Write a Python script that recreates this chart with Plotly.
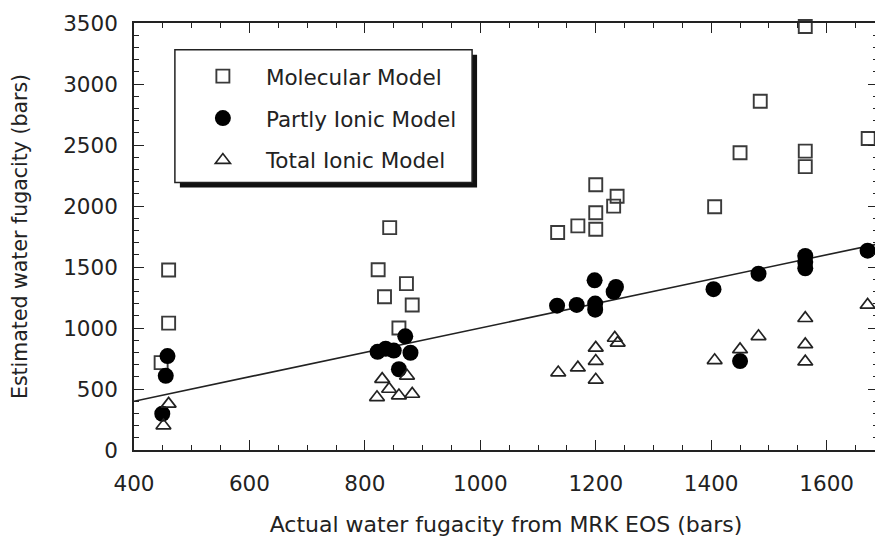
import plotly.graph_objects as go

# Molecular Model (open squares)
mol_x = [460, 460, 447, 843, 823, 872, 834, 882, 859, 1200, 1237, 1231, 1200, 1169, 1200, 1134,
         1563, 1485, 1450, 1563, 1563, 1672, 1406]
mol_y = [1475, 1040, 716, 1823, 1477, 1364, 1256, 1189, 1000, 2174, 2080, 1999, 1945, 1837, 1810, 1783,
         3471, 2858, 2437, 2450, 2323, 2553, 1994]

# Partly Ionic Model (filled circles)
part_x = [458, 455, 449, 870, 822, 836, 850, 879, 859, 1198, 1235, 1231, 1133, 1167, 1199, 1199,
          1404, 1482, 1563, 1563, 1563, 1671, 1450]
part_y = [770, 608, 297, 932, 805, 830, 815, 797, 662, 1391, 1337, 1297, 1183, 1189, 1200, 1150,
          1318, 1445, 1590, 1540, 1490, 1634, 729]

# Total Ionic Model (open triangles)
tot_x = [460, 451, 830, 842, 821, 859, 882, 873, 1233, 1238, 1200, 1200, 1169, 1135, 1200,
         1671, 1563, 1563, 1563, 1482, 1450, 1406]
tot_y = [378, 200, 581, 500, 432, 446, 459, 608, 918, 878, 837, 729, 675, 635, 575,
         1189, 1080, 865, 724, 932, 824, 735]

# 1:1 reference line
line_x = [400, 1700]
line_y = [400, 1700]

x_ticks = [400, 600, 800, 1000, 1200, 1400, 1600]
y_ticks = [0, 500, 1000, 1500, 2000, 2500, 3000, 3500]

FONT = "DejaVu Sans"
INK = "#222222"

W, H = 875, 532
ML, MR, MT, MB = 126, 3, 11, 90
PW, PH = W - ML - MR, H - MT - MB


def px_x(p):
    return (p - ML) / PW


def px_y(p):
    return (H - MB - p) / PH


fig = go.Figure()
fig.add_trace(go.Scatter(x=line_x, y=line_y, mode="lines", showlegend=False,
                         line=dict(color=INK, width=1.6), hoverinfo="skip"))
fig.add_trace(go.Scatter(x=mol_x, y=mol_y, mode="markers", name="Molecular Model",
                         legendgroup="a", cliponaxis=False,
                         marker=dict(symbol="square-open", size=13, color="#3a3a3a",
                                     line=dict(width=1.9, color="#3a3a3a"))))
fig.add_trace(go.Scatter(x=part_x, y=part_y, mode="markers", name="Partly Ionic Model",
                         legendgroup="b", cliponaxis=False,
                         marker=dict(symbol="circle", size=16, color="black",
                                     line=dict(width=0))))
fig.add_trace(go.Scatter(x=tot_x, y=tot_y, mode="markers", name="Total Ionic Model",
                         legendgroup="c", cliponaxis=False,
                         marker=dict(symbol="triangle-up-open", size=13, color=INK,
                                     line=dict(width=1.7, color=INK))))

axis_common = dict(showline=True, linecolor=INK, linewidth=1.6, mirror="allticks",
                   ticks="inside", ticklen=10, tickwidth=1.4, tickcolor=INK,
                   showgrid=False, zeroline=False, ticklabeloverflow="allow",
                   tickfont=dict(family=FONT, size=21.5, color=INK))

# legend frame with drop shadow (pixel positions of the frame)
bx0, by0, bx1, by1 = 167, 38, 465, 172
sh = 5

fig.update_layout(
    width=W, height=H,
    margin=dict(l=ML, r=MR, t=MT, b=MB),
    paper_bgcolor="white", plot_bgcolor="white",
    font=dict(family=FONT, color=INK),
    xaxis=dict(range=[400, 1689], tickvals=x_ticks, ticklabelstandoff=13,
               minor=dict(dtick=50, ticks="inside", ticklen=5, tickwidth=1.2, tickcolor=INK),
               title=dict(text="Actual water fugacity from MRK EOS (bars)",
                          font=dict(family=FONT, size=22), standoff=22),
               **axis_common),
    yaxis=dict(range=[0, 3500], tickvals=y_ticks, ticklabelstandoff=10,
               minor=dict(dtick=100, ticks="inside", ticklen=5, tickwidth=1.2, tickcolor=INK),
               title=dict(text="Estimated water fugacity (bars)",
                          font=dict(family=FONT, size=20.5), standoff=30),
               **axis_common),
    legend=dict(x=px_x(172), y=px_y(44), xanchor="left", yanchor="top",
                bgcolor="rgba(0,0,0,0)", borderwidth=0,
                font=dict(family=FONT, size=21.5, color=INK),
                traceorder="grouped", tracegroupgap=11, itemwidth=76),
    shapes=[
        dict(type="rect", xref="paper", yref="paper", layer="above",
             x0=px_x(bx0 + sh), x1=px_x(bx1 + sh), y0=px_y(by1 + sh), y1=px_y(by0 + sh),
             fillcolor="#111111", line=dict(width=0)),
        dict(type="rect", xref="paper", yref="paper", layer="above",
             x0=px_x(bx0), x1=px_x(bx1), y0=px_y(by1), y1=px_y(by0),
             fillcolor="white", line=dict(width=1.5, color=INK)),
    ],
)

fig.write_html("out.html")
